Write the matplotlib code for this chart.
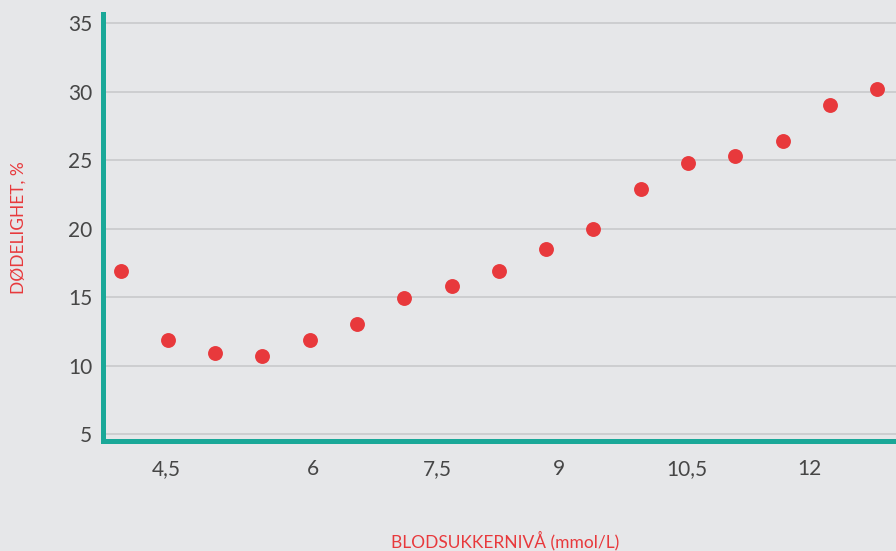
import matplotlib
matplotlib.use('Agg')
import matplotlib.pyplot as plt

# blood sugar bins (mmol/L) and mortality (%)
blodsukker = [4.0, 4.5, 5.0, 5.5, 6.0, 6.5, 7.0, 7.5, 8.0, 8.5,
              9.0, 9.5, 10.0, 10.5, 11.0, 11.5, 12.0]
dodelighet = [16.9, 11.9, 10.9, 10.7, 11.9, 13.0, 14.9, 15.8, 16.9, 18.5,
              20.0, 22.9, 24.8, 25.3, 26.4, 29.0, 30.2]

# tick labels as they sit on the original
xtick_pos = [4.48, 6.03, 7.35, 8.64, 9.99, 11.28]
xtick_labels = ['4,5', '6', '7,5', '9', '10,5', '12']
ytick_vals = [5, 10, 15, 20, 25, 30, 35]

bg = '#e6e7e9'
teal = '#1aa898'
red = '#e8393c'

fig = plt.figure(figsize=(8.96, 5.51), dpi=100, facecolor=bg)
ax = fig.add_axes([0.1155, 0.1996, 0.8845, 0.775])
ax.set_facecolor(bg)

ax.scatter(blodsukker, dodelighet, s=115, color=red, zorder=3, linewidths=0)

ax.set_xlim(3.82, 12.2)
ax.set_ylim(4.49, 35.66)

ax.set_yticks(ytick_vals)
ax.set_yticklabels([str(v) for v in ytick_vals])
ax.set_xticks(xtick_pos)
ax.set_xticklabels(xtick_labels)
ax.tick_params(length=0, labelsize=15, labelcolor='#464646', pad=8, labelfontfamily='Lato')
ax.tick_params(axis='x', pad=13)

ax.grid(axis='y', color='#c9c9cb', lw=1.2)
ax.grid(axis='x', visible=False)
ax.set_axisbelow(True)

for s in ['top', 'right']:
    ax.spines[s].set_visible(False)
for s in ['left', 'bottom']:
    ax.spines[s].set_color(teal)
    ax.spines[s].set_linewidth(3.6)
    ax.spines[s].set_capstyle('projecting')

fig.text(0.021, 0.586, 'DØDELIGHET, %', rotation=90, color=red, fontsize=12.5,
         family='Lato', ha='center', va='center')
fig.text(0.564, 0.018, 'BLODSUKKERNIVÅ (mmol/L)', color=red, fontsize=12.5,
         family='Lato', ha='center', va='center')

fig.savefig('out.png', dpi=100, facecolor=bg)
